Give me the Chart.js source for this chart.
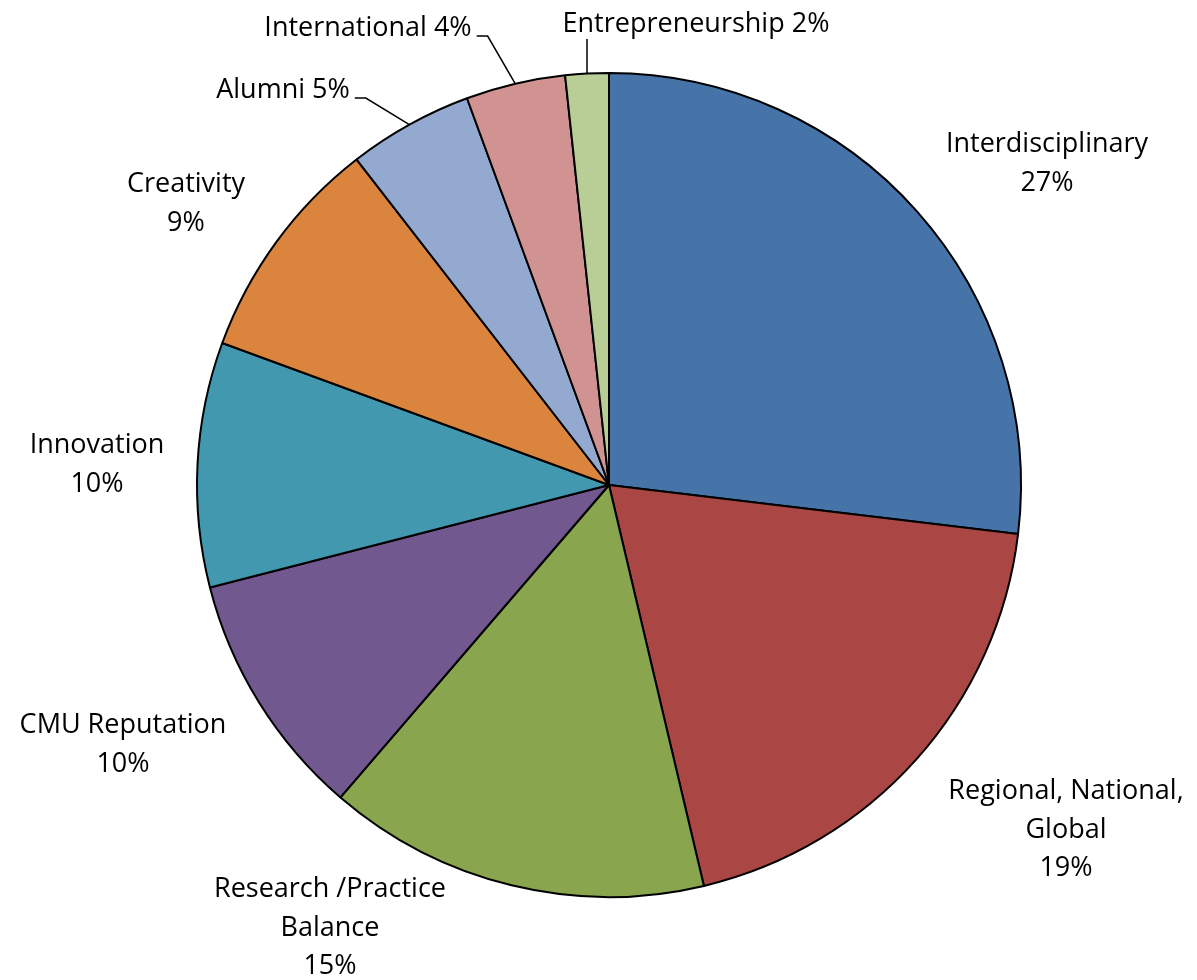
<!DOCTYPE html>
<html>
<head>
<meta charset="utf-8">
<title>Priorities</title>
<script src="https://cdn.jsdelivr.net/npm/chart.js@4.4.0/dist/chart.umd.min.js"></script>
<style>
  html, body { margin: 0; padding: 0; background: #ffffff; }
  #wrap { width: 1197px; height: 980px; position: relative; }
</style>
</head>
<body>
<div id="wrap"><canvas id="pie" width="1197" height="980"></canvas></div>
<script>
// Category names (each entry is the lines of its label)
const categories = [
  ['Interdisciplinary'],
  ['Regional, National,', 'Global'],
  ['Research /Practice', 'Balance'],
  ['CMU Reputation'],
  ['Innovation'],
  ['Creativity'],
  ['Alumni'],
  ['International'],
  ['Entrepreneurship']
];

// Share of responses, percent
const shares = [26.9, 19.4, 15.0, 9.7, 9.6, 8.9, 4.9, 3.9, 1.7];

const sliceColors = [
  '#4674A8', '#AA4643', '#89A54E', '#71588F', '#4198AF',
  '#DB843D', '#93A9CF', '#D19392', '#B9CD96'
];

// Label placement relative to the pie centre: text centre x, first baseline y
const labelSpots = [
  { dx: 438,   dy: -333, inline: false, leader: 'none' },
  { dx: 457,   dy: 314,  inline: false, leader: 'none' },
  { dx: -279,  dy: 412,  inline: false, leader: 'none' },
  { dx: -486,  dy: 248,  inline: false, leader: 'none' },
  { dx: -512,  dy: -32,  inline: false, leader: 'none' },
  { dx: -423,  dy: -293, inline: false, leader: 'none' },
  { dx: -326,  dy: -387, inline: true,  leader: 'elbow' },
  { dx: -241,  dy: -449, inline: true,  leader: 'elbow' },
  { dx: 87,    dy: -453, inline: true,  leader: 'drop' }
];

const FONT = '27px "Open Sans", sans-serif';
const LINE_H = 38.5;

const pieLabels = {
  id: 'pieLabels',
  afterDatasetsDraw(chart) {
    const ctx = chart.ctx;
    const meta = chart.getDatasetMeta(0);
    const total = shares.reduce((a, b) => a + b, 0);
    ctx.save();
    ctx.font = FONT;
    ctx.fillStyle = '#000000';
    ctx.strokeStyle = '#000000';
    ctx.lineWidth = 1.5;
    ctx.textBaseline = 'alphabetic';
    ctx.textAlign = 'center';
    meta.data.forEach((arc, i) => {
      const p = arc.getProps(['x', 'y', 'startAngle', 'endAngle', 'outerRadius'], true);
      const spot = labelSpots[i];
      const pct = Math.round(shares[i] / total * 100) + '%';
      const cx = p.x + spot.dx;
      const by = p.y + spot.dy;
      const lines = spot.inline
        ? [categories[i][0] + ' ' + pct]
        : categories[i].concat([pct]);
      lines.forEach((t, k) => ctx.fillText(t, cx, by + k * LINE_H));

      if (spot.leader !== 'none') {
        const mid = (p.startAngle + p.endAngle) / 2;
        const ex = p.x + Math.cos(mid) * p.outerRadius;
        const ey = p.y + Math.sin(mid) * p.outerRadius;
        ctx.beginPath();
        if (spot.leader === 'elbow') {
          const w = ctx.measureText(lines[0]).width;
          const sx = cx + w / 2 + 5;
          ctx.moveTo(sx, by);
          ctx.lineTo(sx + 11, by);
          ctx.lineTo(ex, ey);
        } else {
          ctx.moveTo(ex, by + 7);
          ctx.lineTo(ex, ey);
        }
        ctx.stroke();
      }
    });
    ctx.restore();
  }
};

new Chart(document.getElementById('pie'), {
  type: 'pie',
  data: {
    labels: categories.map(c => c.join(' ')),
    datasets: [{
      data: shares,
      backgroundColor: sliceColors,
      borderColor: '#000000',
      borderWidth: 2,
      hoverOffset: 0
    }]
  },
  options: {
    responsive: false,
    devicePixelRatio: 1,
    animation: false,
    radius: 412,
    layout: { padding: { left: 21, right: 0, top: 0, bottom: 10 } },
    plugins: {
      legend: { display: false },
      tooltip: { enabled: false }
    },
    events: []
  },
  plugins: [pieLabels]
});
</script>
</body>
</html>
